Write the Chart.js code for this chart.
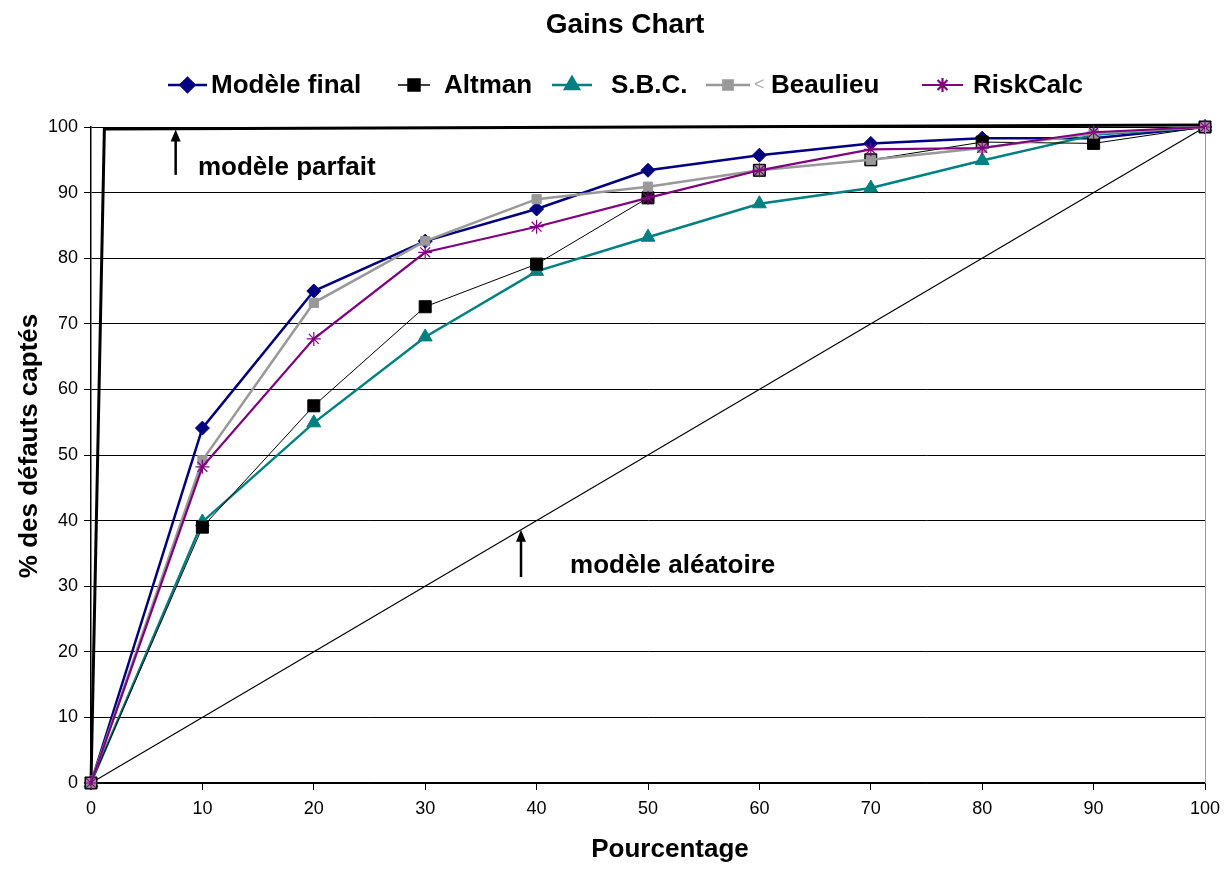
<!DOCTYPE html>
<html>
<head>
<meta charset="utf-8">
<script src="https://cdn.jsdelivr.net/npm/chart.js@4/dist/chart.umd.min.js"></script>
<style>
  html, body { margin: 0; padding: 0; background: #fff; }
  #wrap { width: 1224px; height: 869px; }
</style>
</head>
<body>
<div id="wrap"><canvas id="gains" width="1224" height="869"></canvas></div>
<script>
// pourcentage de la population (axe x)
var pct = [0, 10, 20, 30, 40, 50, 60, 70, 80, 90, 100];

// % des défauts captés par modèle
var modeleFinal = [0, 54.1, 75.0, 82.6, 87.5, 93.4, 95.7, 97.5, 98.3, 98.3, 100];
var altman      = [0, 39.0, 57.5, 72.6, 79.1, 89.2, 93.4, 95.0, 97.7, 97.5, 100];
var sbc         = [0, 39.8, 54.9, 68.0, 78.0, 83.2, 88.3, 90.7, 94.9, 98.8, 100];
var beaulieu    = [0, 49.2, 73.2, 82.6, 89.0, 90.9, 93.4, 95.0, 96.8, 99.0, 100];
var riskCalc    = [0, 48.2, 67.7, 80.9, 84.8, 89.2, 93.4, 96.6, 96.8, 99.2, 100];

// courbes de référence
var parfaitX = [0, 1.2, 100];
var parfaitY = [0, 99.7, 100.3];
var aleaX = [0, 100];
var aleaY = [0, 100];

var yTicks = [0, 10, 20, 30, 40, 50, 60, 70, 80, 90, 100];

function pts(xs, ys) {
  return xs.map(function (x, i) { return { x: x, y: ys[i] }; });
}

var FONT = "'Liberation Sans', Arial, sans-serif";

var series = [
  { label: 'Modèle final', data: modeleFinal, color: '#000080', width: 2.5, style: 'rectRot', r: 7 },
  { label: 'Altman',       data: altman,      color: '#000000', width: 1,   style: 'rect',    r: 8.5 },
  { label: 'S.B.C.',       data: sbc,         color: '#008080', width: 2.5, style: 'triangle',r: 8 },
  { label: 'Beaulieu',     data: beaulieu,    color: '#999999', width: 2.5, style: 'rect',    r: 6.5 },
  { label: 'RiskCalc',     data: riskCalc,    color: '#800080', width: 2.2, style: 'star',    r: 7 }
];
var drawOrder = [5, 3, 4, 2, 1];

var datasets = series.map(function (s, i) {
  return {
    label: s.label,
    data: pts(pct, s.data),
    borderColor: s.color,
    backgroundColor: s.color,
    borderWidth: s.width,
    pointStyle: s.style,
    pointRadius: s.r,
    pointBorderColor: s.color,
    pointBackgroundColor: s.color,
    pointBorderWidth: s.style === 'star' ? 1.2 : 1,
    tension: 0,
    clip: false,
    order: drawOrder[i]
  };
});

datasets.push({
  label: 'parfait',
  data: pts(parfaitX, parfaitY),
  borderColor: '#000',
  borderWidth: 3,
  pointRadius: 0,
  clip: false,
  order: 10
});
datasets.push({
  label: 'aleatoire',
  data: pts(aleaX, aleaY),
  borderColor: '#000',
  borderWidth: 1.2,
  pointRadius: 0,
  clip: false,
  order: 11
});

// titre, titres d'axes, légende et annotations
var decor = {
  id: 'decor',
  afterDraw: function (chart) {
    var ctx = chart.ctx;
    var xs = chart.scales.x, ys = chart.scales.y;
    var area = chart.chartArea;
    ctx.save();

    // bord droit de la zone de tracé
    ctx.strokeStyle = '#999';
    ctx.lineWidth = 1;
    ctx.beginPath();
    ctx.moveTo(area.right + 0.5, area.top);
    ctx.lineTo(area.right + 0.5, area.bottom);
    ctx.stroke();

    ctx.fillStyle = '#000';
    ctx.textBaseline = 'middle';
    ctx.textAlign = 'center';
    ctx.font = 'bold 28px ' + FONT;
    ctx.fillText('Gains Chart', 625, 25);

    ctx.font = 'bold 26px ' + FONT;
    ctx.fillText('Pourcentage', 670, 850);

    ctx.save();
    ctx.translate(30, 446);
    ctx.rotate(-Math.PI / 2);
    ctx.font = 'bold 26px ' + FONT;
    ctx.fillText('% des défauts captés', 0, 0);
    ctx.restore();

    // légende : trait + marqueur
    var legendPos = [
      { x0: 168, x1: 207, tx: 211 },
      { x0: 398, x1: 430, tx: 444 },
      { x0: 552, x1: 592, tx: 611 },
      { x0: 706, x1: 750, tx: 771 },
      { x0: 922, x1: 963, tx: 973 }
    ];
    var ly = 85;
    ctx.textAlign = 'left';
    ctx.font = 'bold 26px ' + FONT;
    series.forEach(function (s, i) {
      var p = legendPos[i];
      ctx.strokeStyle = s.color;
      ctx.lineWidth = Math.max(s.width, 1.5);
      ctx.beginPath();
      ctx.moveTo(p.x0, ly);
      ctx.lineTo(p.x1, ly);
      ctx.stroke();
      ctx.fillStyle = s.color;
      Chart.helpers.drawPoint(ctx, {
        pointStyle: s.style,
        radius: s.r,
        borderWidth: s.style === 'star' ? 1.2 : 1
      }, (p.x0 + p.x1) / 2, ly);
      ctx.fillStyle = '#000';
      ctx.fillText(s.label, p.tx, ly + 1);
    });
    ctx.fillStyle = '#aaa';
    ctx.font = '18px ' + FONT;
    ctx.fillText('<', 754, ly);

    // flèches et libellés des courbes de référence
    function arrow(xv, yFrom, yTo) {
      var px = xs.getPixelForValue(xv);
      var p0 = ys.getPixelForValue(yFrom);
      var p1 = ys.getPixelForValue(yTo);
      ctx.strokeStyle = '#000';
      ctx.fillStyle = '#000';
      ctx.lineWidth = 2.5;
      ctx.beginPath();
      ctx.moveTo(px, p0);
      ctx.lineTo(px, p1 + 8);
      ctx.stroke();
      ctx.beginPath();
      ctx.moveTo(px, p1);
      ctx.lineTo(px - 5, p1 + 12);
      ctx.lineTo(px + 5, p1 + 12);
      ctx.closePath();
      ctx.fill();
    }
    arrow(7.6, 92.7, 99.6);
    arrow(38.6, 31.4, 38.6);

    ctx.fillStyle = '#000';
    ctx.font = 'bold 26px ' + FONT;
    ctx.textAlign = 'left';
    ctx.fillText('modèle parfait', xs.getPixelForValue(9.6), ys.getPixelForValue(93.7));
    ctx.fillText('modèle aléatoire', xs.getPixelForValue(43.0), ys.getPixelForValue(33.1));
    ctx.restore();
  }
};

new Chart(document.getElementById('gains'), {
  type: 'line',
  data: { datasets: datasets },
  plugins: [decor],
  options: {
    responsive: false,
    animation: false,
    layout: { padding: { left: 10, top: 127, right: 4, bottom: 0 } },
    plugins: {
      legend: { display: false },
      title: { display: false },
      tooltip: { enabled: false }
    },
    scales: {
      x: {
        type: 'linear',
        min: 0,
        max: 100,
        afterFit: function (scale) {
          scale.height = 86;
          scale.paddingRight = 19;
        },
        ticks: {
          stepSize: 10,
          color: '#000',
          padding: 8,
          maxRotation: 0,
          font: { family: FONT, size: 18 }
        },
        grid: { drawOnChartArea: false, color: '#000', tickLength: 7, tickColor: '#000' },
        border: { color: '#000', width: 1.5 }
      },
      y: {
        min: 0,
        max: 100,
        afterFit: function (scale) { scale.width = 81; },
        afterBuildTicks: function (scale) {
          scale.ticks = yTicks.map(function (v) { return { value: v }; });
        },
        ticks: {
          color: '#000',
          padding: 6,
          font: { family: FONT, size: 18 }
        },
        grid: { color: '#000', lineWidth: 1, tickLength: 7, tickColor: '#000' },
        border: { color: '#000', width: 1.5 }
      }
    }
  }
});
</script>
</body>
</html>
